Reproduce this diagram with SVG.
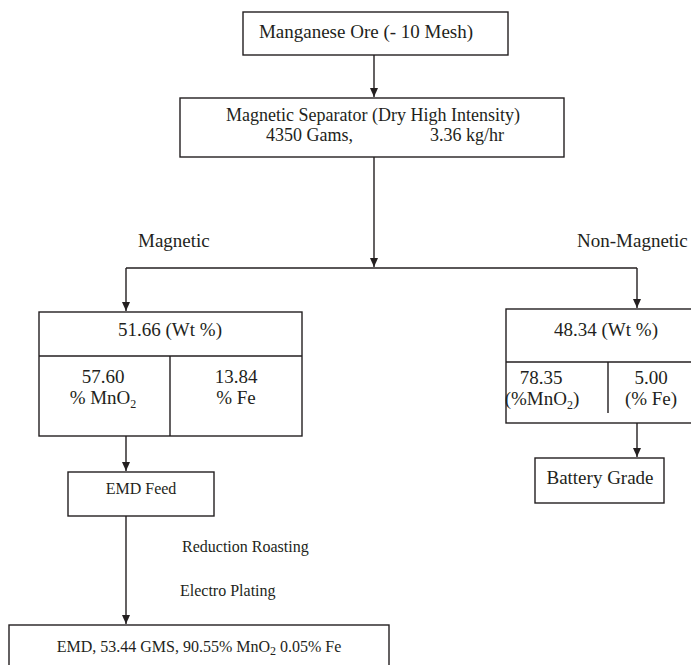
<svg xmlns="http://www.w3.org/2000/svg" width="691" height="665" viewBox="0 0 691 665">
<style>
.box{fill:#fff;stroke:#231f20;stroke-width:1.4}
.ln{fill:none;stroke:#231f20;stroke-width:1.4}
text{font-family:"Liberation Serif","Times New Roman",serif;fill:#231f20}
.t19{font-size:19px}
.t18{font-size:18px}
.t16{font-size:16px}
.sub{font-size:12px}
</style>
<defs>
<marker id="ah" markerWidth="10" markerHeight="10" refX="9" refY="5" orient="auto" markerUnits="userSpaceOnUse">
<path d="M0,1 L9,5 L0,9 Z" fill="#231f20"/>
</marker>
</defs>
<rect width="691" height="665" fill="#fff"/>
<g id="connectors">
<path class="ln" d="M374,55 V97" marker-end="url(#ah)"/>
<path class="ln" d="M374,157 V267" marker-end="url(#ah)"/>
<path class="ln" d="M126,268 H637"/>
<path class="ln" d="M126,268 V311" marker-end="url(#ah)"/>
<path class="ln" d="M637,268 V308" marker-end="url(#ah)"/>
<path class="ln" d="M637,423 V457" marker-end="url(#ah)"/>
<path class="ln" d="M126,436 V471" marker-end="url(#ah)"/>
<path class="ln" d="M126,516 V624" marker-end="url(#ah)"/>
</g>
<g id="ore">
<rect class="box" x="243" y="12" width="265" height="43"/>
<text class="t19" x="366" y="38" text-anchor="middle">Manganese Ore (- 10 Mesh)</text>
</g>
<g id="separator">
<rect class="box" x="180" y="98" width="384" height="59"/>
<text class="t18" x="373" y="121" text-anchor="middle">Magnetic Separator (Dry High Intensity)</text>
<text class="t18" x="266" y="141">4350 Gams,</text>
<text class="t18" x="430" y="141">3.36 kg/hr</text>
</g>
<g id="label-magnetic">
<text class="t19" x="138" y="247">Magnetic</text>
</g>
<g id="label-nonmagnetic">
<text class="t19" x="577" y="247">Non-Magnetic</text>
</g>
<g id="magnetic-box">
<rect class="box" x="39" y="312" width="263" height="124"/>
<path class="ln" d="M39,356 H302 M170,356 V436"/>
<text class="t19" x="170" y="336" text-anchor="middle">51.66 (Wt %)</text>
<text class="t19" x="103" y="383" text-anchor="middle">57.60</text>
<text class="t19" x="103" y="404" text-anchor="middle">% MnO<tspan class="sub" dy="4">2</tspan></text>
<text class="t19" x="236" y="383" text-anchor="middle">13.84</text>
<text class="t19" x="236" y="404" text-anchor="middle">% Fe</text>
</g>
<g id="nonmagnetic-box">
<rect class="box" x="506" y="309" width="200" height="114"/>
<path class="ln" d="M506,362 H706 M608,362 V413"/>
<text class="t19" x="606" y="336" text-anchor="middle">48.34 (Wt %)</text>
<text class="t19" x="541" y="384" text-anchor="middle">78.35</text>
<text class="t19" x="542" y="405" text-anchor="middle">(%MnO<tspan class="sub" dy="4">2</tspan><tspan dy="-4">)</tspan></text>
<text class="t19" x="651" y="384" text-anchor="middle">5.00</text>
<text class="t19" x="651" y="405" text-anchor="middle">(% Fe)</text>
</g>
<g id="battery">
<rect class="box" x="535" y="458" width="129" height="45"/>
<text class="t19" x="600" y="484" text-anchor="middle">Battery Grade</text>
</g>
<g id="emd-feed">
<rect class="box" x="68" y="472" width="146" height="44"/>
<text class="t16" x="141" y="494" text-anchor="middle">EMD Feed</text>
</g>
<g id="labels-process">
<text class="t16" x="182" y="552">Reduction Roasting</text>
<text class="t16" x="180" y="596">Electro Plating</text>
</g>
<g id="emd">
<rect class="box" x="9" y="625" width="380" height="50"/>
<text class="t16" x="199" y="652" text-anchor="middle">EMD, 53.44 GMS, 90.55% MnO<tspan class="sub" dy="3">2</tspan><tspan dy="-3"> 0.05% Fe</tspan></text>
</g>
</svg>
